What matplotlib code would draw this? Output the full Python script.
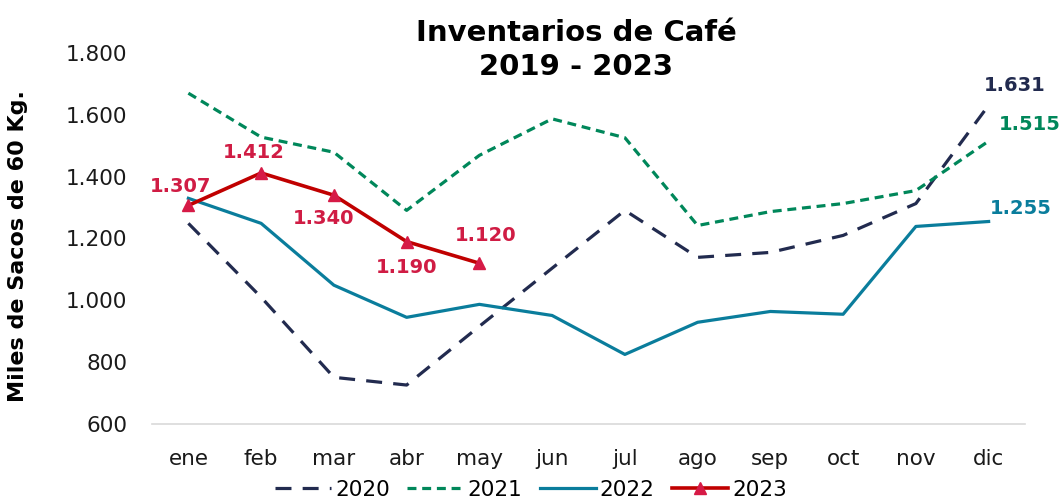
import matplotlib
matplotlib.use("Agg")
import matplotlib.pyplot as plt
from matplotlib.ticker import FuncFormatter

months = ["ene", "feb", "mar", "abr", "may", "jun", "jul", "ago", "sep", "oct", "nov", "dic"]
v2020 = [1249, 1010, 751, 726, 916, 1104, 1291, 1139, 1155, 1210, 1313, 1631]
v2021 = [1670, 1528, 1479, 1291, 1469, 1587, 1526, 1242, 1287, 1313, 1355, 1515]
v2022 = [1330, 1249, 1049, 945, 987, 951, 825, 929, 964, 955, 1239, 1255]
v2023 = [1307, 1412, 1340, 1190, 1120]
yticks = [600, 800, 1000, 1200, 1400, 1600, 1800]

FONT = "DejaVu Sans"
plt.rcParams["font.family"] = [FONT]

c2020 = "#222B4F"
c2021 = "#00875A"
c2022 = "#0A7D9C"
c2023 = "#C00000"
cmark = "#D61A46"

def fmt(v):
    return f"{v:,.0f}".replace(",", ".")

fig = plt.figure(figsize=(10.6, 5.0), dpi=100)
ax = fig.add_axes([152/1060, 1-424/500, (1025-152)/1060, (424-53)/500])

x = list(range(len(months)))
ax.plot(x, v2020, color=c2020, lw=2.3, dashes=(5, 3.5), label="2020")
ax.plot(x, v2021, color=c2021, lw=2.3, dashes=(2.8, 1.8), label="2021")
ax.plot(x, v2022, color=c2022, lw=2.3, label="2022")
ax.plot(range(len(v2023)), v2023, color=c2023, lw=2.6, marker="^", ms=9,
        mfc=cmark, mec=cmark, label="2023")

ax.set_xlim(-0.5, len(months) - 0.5)
ax.set_ylim(600, 1800)
ax.set_yticks(yticks)
ax.yaxis.set_major_formatter(FuncFormatter(lambda v, p: fmt(v)))
ax.set_xticks(x)
ax.set_xticklabels(months)
ax.tick_params(axis="both", length=0, labelsize=15.5, colors="#1a1a1a")
ax.tick_params(axis="y", pad=18)
ax.tick_params(axis="x", pad=18)
for s in ["top", "right", "left"]:
    ax.spines[s].set_visible(False)
ax.spines["bottom"].set_color("#D9D9D9")
ax.spines["bottom"].set_linewidth(1.2)

# 2023 labels
offs = [(-8, 19), (-7, 20), (-10, -23), (0, -26), (6, 28)]
for i, v in enumerate(v2023):
    ax.annotate(fmt(v), (i, v), xytext=offs[i], textcoords="offset pixels",
                ha="center", va="center", color="#D01C44", fontsize=14, fontweight="bold")

# end labels
ax.annotate(fmt(v2020[-1]), (11, v2020[-1]), xytext=(26, 20), textcoords="offset pixels",
            ha="center", va="center", color=c2020, fontsize=14, fontweight="bold")
ax.annotate(fmt(v2021[-1]), (11, v2021[-1]), xytext=(41, 17), textcoords="offset pixels",
            ha="center", va="center", color=c2021, fontsize=14, fontweight="bold")
ax.annotate(fmt(v2022[-1]), (11, v2022[-1]), xytext=(32, 13), textcoords="offset pixels",
            ha="center", va="center", color=c2022, fontsize=14, fontweight="bold")

ax.set_ylabel("Miles de Sacos de 60 Kg.", fontsize=16, fontweight="bold", color="black")
ax.yaxis.set_label_coords(-124/873, 0.48)

fig.text(576/1060, 1-50/500, "Inventarios de Café\n2019 - 2023", ha="center", va="center",
         fontsize=21, fontweight="bold", linespacing=1.3)

leg = fig.legend(loc="center", bbox_to_anchor=(531/1060, 1-490/500), ncol=4, frameon=False,
                 fontsize=15.5, handlelength=2.6, columnspacing=0.8, handletextpad=0.2)

fig.savefig("out.png", dpi=100)
